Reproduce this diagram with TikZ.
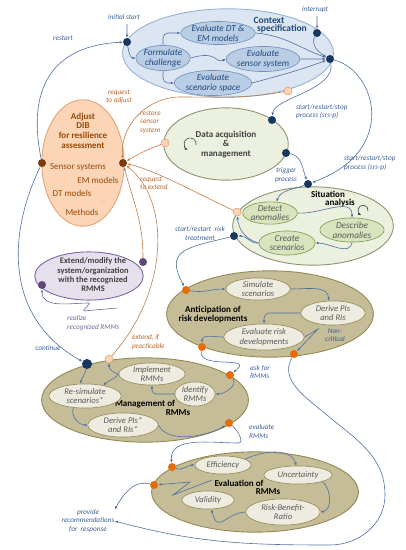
\documentclass[tikz,border=0pt]{standalone}
\usepackage{fontspec}
\setmainfont{Carlito}
\usetikzlibrary{shapes.geometric,arrows.meta}

\definecolor{ctxfill}{HTML}{DCE6F2}
\definecolor{ctxline}{HTML}{95B3D7}
\definecolor{ctxsubfill}{HTML}{B9CDE5}
\definecolor{ctxsubline}{HTML}{6F8FC0}
\definecolor{ctxtext}{HTML}{1F497D}
\definecolor{dotblue}{HTML}{17375E}
\definecolor{bline}{HTML}{4F6FA3}
\definecolor{lbltext}{HTML}{3A5F95}
\definecolor{orline}{HTML}{C27C4A}
\definecolor{ortext}{HTML}{B8672E}
\definecolor{adjfill}{HTML}{FBD5B5}
\definecolor{adjline}{HTML}{E3A57A}
\definecolor{adjtext}{HTML}{984807}
\definecolor{adjdot}{HTML}{7F3A0A}
\definecolor{grfill}{HTML}{EBF1DE}
\definecolor{grline}{HTML}{8C9470}
\definecolor{grsubfill}{HTML}{D7E4BD}
\definecolor{grsubline}{HTML}{7E9A4C}
\definecolor{olfill}{HTML}{C4BD97}
\definecolor{olline}{HTML}{948A54}
\definecolor{olsubfill}{HTML}{EEECE1}
\definecolor{subtext}{HTML}{595959}
\definecolor{ordot}{HTML}{E46C0A}
\definecolor{lightdot}{HTML}{FCD5B5}
\definecolor{lightline}{HTML}{E39A6A}
\definecolor{pufill}{HTML}{E5E0EC}
\definecolor{puline}{HTML}{8064A2}
\definecolor{pudot}{HTML}{5F497A}
\definecolor{putext}{HTML}{6A6A9E}
\definecolor{titletext}{HTML}{404040}

\begin{document}
\begin{tikzpicture}[scale=0.35, >={Latex[length=3.2pt,width=2.6pt]}]
	\tikzset{every node/.append style={inner sep=0pt},
		sz/.style 2 args={minimum width=#1pt, minimum height=#2pt},
		big/.style={ellipse, line width=0.9pt},
		ctxbig/.style={big, draw=ctxline, fill=ctxfill},
		grbig/.style={big, draw=grline, fill=grfill},
		olbig/.style={big, draw=olline, fill=olfill},
		pubig/.style={big, draw=puline, fill=pufill},
		adjbig/.style={big, draw=adjline, fill=adjfill},
		ctxsub/.style={ellipse, draw=ctxsubline, fill=ctxsubfill, line width=0.6pt, text=ctxtext, align=center, font=\fontsize{9.2}{9.8}\selectfont\itshape},
		grsub/.style={ellipse, draw=grsubline, fill=grsubfill, line width=0.6pt, text=subtext, align=center, font=\fontsize{9.2}{9.8}\selectfont\itshape},
		olsub/.style={ellipse, draw=olline, fill=olsubfill, line width=0.6pt, text=subtext, align=center, font=\fontsize{8.6}{9.4}\selectfont\itshape},
		ctxtitle/.style={text=ctxtext, font=\fontsize{9.5}{10}\selectfont\bfseries},
		adjtitle/.style={text=adjtext, align=center, font=\fontsize{9}{9.7}\selectfont\bfseries},
		adjitem/.style={text=adjtext, font=\fontsize{9}{9}\selectfont},
		bktitle/.style={text=black, align=center, font=\fontsize{9}{9.3}\selectfont\bfseries},
		gytitle/.style={text=titletext, align=center, font=\fontsize{9}{9.5}\selectfont\bfseries},
		dotb/.style={circle, fill=dotblue, minimum size=8pt},
		doto/.style={circle, fill=ordot, minimum size=8pt},
		dotl/.style={circle, fill=lightdot, draw=lightline, line width=0.5pt, minimum size=8pt},
		dotp/.style={circle, fill=pudot, minimum size=8pt},
		dotbr/.style={circle, fill=adjdot, minimum size=8pt},
		bl/.style={draw=bline, line width=0.6pt, ->},
		ol/.style={draw=orline, line width=0.6pt, ->},
		pl/.style={draw=putext, line width=0.6pt, ->},
		lbl/.style={text=lbltext, align=center, font=\fontsize{7.2}{8.3}\selectfont\itshape},
		olbl/.style={lbl, text=ortext},
		plbl/.style={lbl, text=putext}}
	\useasboundingbox (0,0) rectangle (40.6,-55);

	% context specification
	\node[ctxbig, sz={210}{88}] (ctx) at (22.8,-5.3) {};
	\node[ctxtitle] (ctxT1) at (26.9,-2.0) {Context};
	\node[ctxtitle] (ctxT2) at (28.2,-2.9) {specification};
	\node[ctxsub, sz={66}{22}] (evdt) at (21.8,-3.3) {Evaluate DT \&\\EM models};
	\node[ctxsub, sz={50}{24}] (form) at (16.3,-5.8) {Formulate\\challenge};
	\node[ctxsub, sz={68}{24}] (evsens) at (26.3,-5.9) {Evaluate\\sensor system};
	\node[ctxsub, sz={58}{24}] (evscen) at (21.3,-8.3) {Evaluate\\scenario space};
	\node[dotb] (init) at (12.7,-4.2) {};
	\node[dotb] (intr) at (31.7,-3.3) {};
	\node[dotb] (ctxout) at (33.0,-5.9) {};
	\node[dotl] (ctxlt) at (28.8,-9.1) {};
	\coordinate (initin) at (12.7,-2.4);
	\coordinate (intrin) at (31.7,-1.6);
	\node[lbl] (linit) at (12.4,-1.7) {initial start};
	\node[lbl] (lintr) at (31.5,-1.0) {interrupt};

	% adjust DIB
	\node[adjbig, sz={82}{126}] (adj) at (8.3,-16.3) {};
	\node[adjtitle] (adjT) at (8.3,-13.05) {Adjust\\DIB\\for resilience\\assessment};
	\node[adjitem] (aSen) at (7.8,-16.7) {Sensor systems};
	\node[adjitem] (aEM) at (9.8,-18.0) {EM models};
	\node[adjitem] (aDT) at (7.2,-19.3) {DT models};
	\node[adjitem, font=\fontsize{3}{3}\selectfont] (aDots) at (10.3,-20.2) {......};
	\node[adjitem] (aMeth) at (8.2,-21.2) {Methods};
	\node[dotbr] (adjL) at (4.2,-16.3) {};
	\node[dotbr] (adjR) at (12.3,-16.3) {};

	% data acquisition
	\node[grbig, sz={124}{72}] (daq) at (22.6,-14.4) {};
	\node[gytitle] (daqT) at (22.6,-14.45) {Data acquisition\\\&\\management};
	\node[dotl] (dataL) at (16.5,-14.3) {};
	\node[dotb] (dataT) at (27.2,-12.0) {};
	\node[dotb] (dataR) at (28.6,-15.3) {};
	\draw[->, draw=titletext, line width=0.6pt] (19.6,-14.5) arc[start angle=-10, end angle=250, radius=0.6];

	% situation analysis
	\node[grbig, sz={160}{78}] (sit) at (31.3,-22.6) {};
	\node[bktitle] (sitT1) at (32.8,-19.4) {Situation};
	\node[bktitle] (sitT2) at (34.0,-20.3) {analysis};
	\node[grsub, sz={50}{22}] (det) at (27.0,-21.3) {Detect\\anomalies};
	\node[grsub, sz={64}{24}] (desc) at (35.2,-23.0) {Describe\\anomalies};
	\node[grsub, sz={56}{24}] (cre) at (28.7,-24.3) {Create\\scenarios};
	\node[dotb] (sitT) at (30.8,-18.4) {};
	\node[dotl] (sitlt) at (23.7,-21.2) {};
	\node[dotb] (sitL) at (23.4,-23.6) {};
	\draw[->, draw=titletext, line width=0.6pt] (36.8,-21.1) arc[start angle=-10, end angle=250, radius=0.5];

	% extend/modify
	\node[pubig, sz={108}{48}] (ext) at (8.9,-27.6) {};
	\node[gytitle, font=\fontsize{8.4}{9.3}\selectfont\bfseries] (extT) at (9.3,-27.5) {Extend/modify the\\system/organization\\with the recognized\\RMMS};
	\node[dotp] (purR) at (14.3,-26.2) {};
	\node[dotp] (purL) at (4.2,-28.5) {};

	% anticipation
	\node[olbig, sz={206}{86}] (ant) at (27.0,-31.4) {};
	\node[bktitle] (antT) at (21.3,-31.45) {Anticipation of\\risk developments};
	\node[olsub, sz={64}{22}] (sim) at (25.8,-28.9) {Simulate\\scenarios};
	\node[olsub, sz={64}{24}] (der) at (33.3,-31.3) {Derive PIs\\and RIs};
	\node[olsub, sz={80}{26}] (evr) at (26.4,-33.7) {Evaluate risk\\developments};
	\node[doto] (antL) at (18.6,-29.0) {};
	\node[doto] (antBL) at (20.2,-34.7) {};
	\node[doto] (antBR) at (29.4,-35.4) {};

	% management
	\node[olbig, sz={206}{84}] (man) at (14.5,-40.0) {};
	\node[bktitle] (manT1) at (14.5,-40.4) {Management of};
	\node[bktitle] (manT2) at (17.8,-41.3) {RMMs};
	\node[olsub, sz={66}{22}] (imp) at (15.2,-37.4) {Implement\\RMMs};
	\node[olsub, sz={40}{24}] (ide) at (19.5,-39.4) {Identify\\RMMs};
	\node[olsub, sz={72}{24}] (resim) at (8.5,-39.6) {Re-simulate\\scenarios*};
	\node[olsub, sz={70}{24}] (derpi) at (12.3,-42.5) {Derive PIs*\\and RIs*};
	\node[dotb, minimum size=10pt] (manB) at (8.7,-36.4) {};
	\node[dotl] (manlt) at (10.9,-35.9) {};
	\node[doto] (manR) at (23.0,-37.5) {};
	\node[doto] (manR2) at (22.9,-42.3) {};

	% evaluation
	\node[olbig, sz={206}{80}] (ev) at (25.5,-49.2) {};
	\node[bktitle] (evT1) at (23.9,-48.3) {Evaluation of};
	\node[bktitle] (evT2) at (26.8,-49.2) {RMMs};
	\node[olsub, sz={56}{18}] (eff) at (22.3,-46.5) {Efficiency};
	\node[olsub, sz={68}{18}] (unc) at (29.8,-47.5) {Uncertainty};
	\node[olsub, sz={74}{26}] (rbr) at (28.3,-51.2) {Risk-Benefit-\\Ratio};
	\node[olsub, sz={52}{18}] (val) at (20.8,-50.0) {Validity};
	\node[doto] (evTL) at (17.2,-46.7) {};
	\node[doto] (evL) at (15.4,-48.5) {};

	% labels
	\node[lbl] (lrest) at (6.3,-3.8) {restart};
	\node[olbl] (lradj) at (11.9,-9.65) {request\\to adjust};
	\node[olbl, align=left, anchor=west] (lrsens) at (14.0,-12.2) {restore\\sensor\\system};
	\node[olbl, align=left, anchor=west] (lrext) at (14.0,-18.3) {request\\to extend};
	\node[lbl, align=left, anchor=west] (lsrs1) at (29.6,-11.15) {start/restart/stop\\process (srs-p)};
	\node[lbl, align=left, anchor=west] (lsrs2) at (34.4,-16.3) {start/restart/stop\\process (srs-p)};
	\node[lbl] (ltrig) at (28.6,-17.5) {trigger\\process};
	\node[lbl] (lrisk) at (20.0,-23.35) {start/restart~ risk\\treatment};
	\node[plbl, align=left, anchor=west] (lreal) at (6.7,-32.3) {realize\\recognized RMMs};
	\node[lbl] (lcont) at (4.8,-34.8) {continue};
	\node[olbl, align=left, anchor=west] (lextp) at (13.2,-34.2) {extend, if\\practicable};
	\node[lbl, align=left, anchor=west] (lask) at (25.0,-37.2) {ask for\\RMMs};
	\node[lbl, align=left, anchor=west] (leval) at (24.9,-43.15) {evaluate\\RMMs};
	\node[lbl] (lnc) at (33.5,-33.55) {Non-\\critical};
	\node[lbl] (prov) at (8.8,-52.1) {provide\\recommendations\\for~ response};

	% context connectors
	\draw[bl] (initin) -- (init);
	\draw[bl] (intrin) -- (intr);
	\draw[bl] (init) to[out=-80,in=180] (form.west);
	\draw[bl, rounded corners=5pt] (form.north) |- (evdt.west);
	\draw[bl, rounded corners=5pt] (form.south) |- (evscen.west);
	\draw[bl] (form.east) .. controls (21.8,-5.0) and (21.5,-6.4) .. (evsens.west);
	\draw[bl] (evdt.east) to[out=-5,in=160] (ctxout);
	\draw[bl] (evsens.east) -- (ctxout);
	\draw[bl] (evscen.east) to[out=15,in=200] (ctxout);
	\draw[bl] (intr) to[out=-120,in=150] (ctxout);
	\draw[bl] (ctxout) .. controls (33.6,-9.0) and (27.4,-9.8) .. (dataT);
	\draw[bl] (ctxout) .. controls (37.5,-7.0) and (40,-15) .. (sitT);
	\draw[bl] (dataR) to[out=-10,in=110] (sitT);

	% situation connectors
	\draw[bl] (sitT) to[out=200,in=70] (det.60);
	\draw[bl] (det.east) to[out=-5,in=90] (desc.north);
	\draw[bl] (desc.south) to[out=-100,in=0] (cre.east);
	\draw[bl] (cre.west) to[out=165,in=-85] (sitlt);
	\draw[bl] (cre.west) to[out=185,in=0] (sitL);

	% into the adjust node
	\draw[ol] (ctxlt) to[out=190,in=0] (18,-9.7) to[out=180,in=95] (adjR);
	\draw[ol] (dataL) to[out=200,in=30] (adjR);
	\draw[ol] (sitlt) .. controls (20,-19.5) and (15.5,-17) .. (adjR);
	\draw[ol] (manlt) .. controls (17,-29) and (17,-20) .. (adjR);
	\draw[ol] (purR) to[out=90,in=-75] (adjR);
	\draw[bl] (adjL) .. controls (2.5,-8) and (6,-4.5) .. (init);
	\draw[bl] (adjL) .. controls (0.5,-24) and (0.8,-32) .. (manB);
	\coordinate (realz) at (11.7,-30.8);
	\draw[pl, rounded corners=1pt] (realz) -- (8.3,-31.1) -- (9.0,-30.3) to[out=180,in=-90] (purL);

	% anticipation connectors
	\draw[bl] (sitL) .. controls (18.5,-24.8) and (16.5,-25) .. (antL);
	\draw[bl] (antL) to[out=-10,in=180] (sim.west);
	\draw[bl] (sim.east) to[out=0,in=90] (der.110);
	\draw[bl, rounded corners=5pt] (der.west) -| (evr.north);
	\draw[bl] (evr.west) to[out=180,in=90] (antBL);
	\draw[bl] (evr.east) -- (31.8,-32.9) -- (antBR);
	\draw[bl] (antBL) .. controls (19.8,-37) and (25.5,-35.5) .. (manR);
	\draw[bl] (antBR) to[out=-120,in=140] (32.7,-41.5) to[out=-40,in=90] (38.5,-49.5) to[out=-90,in=0] (33,-54.5) to[out=180,in=-15] (prov.east);

	% management connectors
	\draw[bl] (manB) to[out=-100,in=80] (resim.110);
	\draw[bl] (manR) to[out=-50,in=0] (ide.east);
	\draw[bl, rounded corners=4pt] (ide.west) -| (imp.south);
	\draw[bl] (imp.west) to[out=-130,in=45] (resim.30);
	\draw[bl] (imp.west) to[out=170,in=-90] (manlt);
	\draw[bl] (resim.225) to[out=-110,in=180] (derpi.west);
	\draw[bl] (derpi.east) .. controls (16.8,-44.5) and (21,-43.5) .. (manR2);
	\draw[bl] (manR2) to[out=-40,in=0] (23.8,-44.3) to[out=180,in=95] (evTL);

	% evaluation connectors
	\draw[bl] (evTL) to[out=-20,in=180] (eff.west);
	\draw[bl] (eff.15) .. controls (26,-45.2) and (29,-44.6) .. (unc.100);
	\draw[bl] (unc.-15) to[out=-40,in=10] (rbr.east);
	\draw[bl] (rbr.west) .. controls (22.5,-51.3) and (21.8,-53.5) .. (val.-70);
	\coordinate (zz) at (21.2,-48.0);
	\draw[bl] (zz) -- (17.3,-49.5) -- (19.0,-48.2) -- (evL);
	\draw[bl] (evL) to[out=165,in=60] (prov.north east);
\end{tikzpicture}
\end{document}
